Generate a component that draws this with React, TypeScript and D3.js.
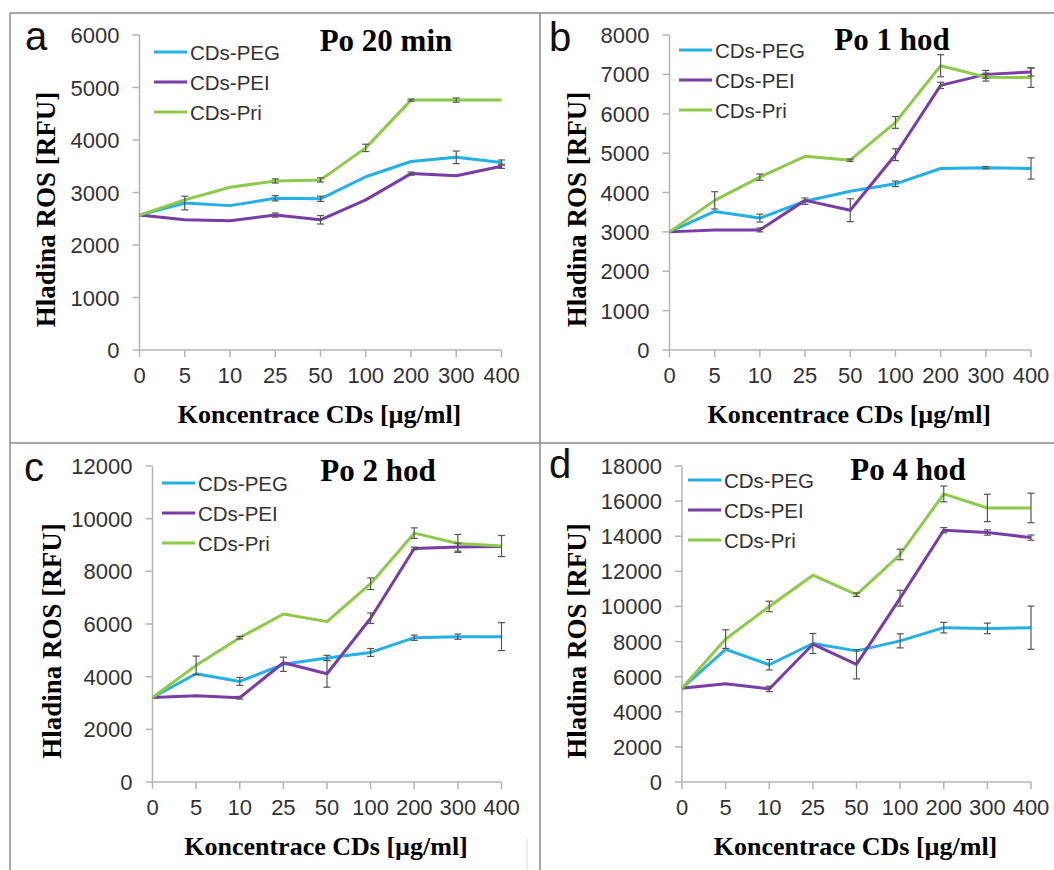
import React from 'react'
import * as d3 from 'd3'

// x categories (µg/ml)
const concentrations = ['0', '5', '10', '25', '50', '100', '200', '300', '400']
const seriesNames = ['CDs-PEG', 'CDs-PEI', 'CDs-Pri']
const seriesColors = ['#22B0E6', '#7A3CA6', '#8DCA48']

// a: Po 20 min
const pegA = [2570, 2800, 2750, 2890, 2880, 3300, 3590, 3670, 3570]
const peiA = [2570, 2480, 2460, 2570, 2480, 2860, 3360, 3320, 3500]
const priA = [2570, 2860, 3100, 3220, 3240, 3850, 4760, 4760, 4760]
const pegErrA = [0, 130, 0, 50, 50, 0, 0, 120, 50]
const peiErrA = [0, 0, 0, 40, 80, 0, 30, 0, 40]
const priErrA = [0, 0, 0, 40, 40, 70, 20, 40, 0]

// b: Po 1 hod
const pegB = [3000, 3520, 3350, 3780, 4030, 4220, 4610, 4630, 4610]
const peiB = [3000, 3050, 3050, 3800, 3550, 4960, 6720, 7000, 7060]
const priB = [3000, 3800, 4390, 4920, 4820, 5780, 7220, 6930, 6920]
const pegErrB = [0, 0, 100, 80, 0, 70, 0, 30, 270]
const peiErrB = [0, 0, 50, 0, 290, 150, 80, 100, 100]
const priErrB = [0, 220, 80, 0, 30, 150, 280, 100, 250]

// c: Po 2 hod
const pegC = [3210, 4110, 3820, 4470, 4710, 4920, 5480, 5520, 5520]
const peiC = [3210, 3280, 3200, 4530, 4110, 6220, 8870, 8920, 8940]
const priC = [3210, 4430, 5480, 6380, 6090, 7530, 9450, 9060, 8960]
const pegErrC = [0, 0, 150, 270, 100, 150, 100, 100, 530]
const peiErrC = [0, 0, 50, 0, 510, 200, 50, 150, 0]
const priErrC = [0, 350, 50, 0, 0, 220, 200, 340, 400]

// d: Po 4 hod
const pegD = [5340, 7550, 6680, 7890, 7470, 8040, 8790, 8750, 8790]
const peiD = [5340, 5590, 5300, 7850, 6700, 10470, 14340, 14210, 13920]
const priD = [5340, 8140, 10000, 11780, 10670, 12960, 16410, 15610, 15610]
const pegErrD = [0, 0, 300, 570, 0, 400, 300, 300, 1230]
const peiErrD = [0, 0, 150, 0, 830, 450, 150, 150, 150]
const priErrD = [0, 530, 300, 0, 100, 300, 450, 780, 840]

const SANS = 'Arial, "Liberation Sans", sans-serif'
const SERIF = '"Times New Roman", "Liberation Serif", serif'
const XTITLE = 'Koncentrace CDs [µg/ml]'
const YTITLE = 'Hladina ROS [RFU]'

const panels = [
  {
    letter: 'a', title: 'Po 20 min', yMax: 6000, yStep: 1000,
    values: [pegA, peiA, priA], errors: [pegErrA, peiErrA, priErrA],
    x0: 139.5, x1: 501.5, yTop: 35, yZero: 350,
    letterX: 25, letterY: 50, titleX: 386, titleY: 51,
    legX: 154, legY: 52, yTitleX: 46,
  },
  {
    letter: 'b', title: 'Po 1 hod', yMax: 8000, yStep: 1000,
    values: [pegB, peiB, priB], errors: [pegErrB, peiErrB, priErrB],
    x0: 669.5, x1: 1031, yTop: 35, yZero: 350,
    letterX: 549, letterY: 51, titleX: 892, titleY: 50,
    legX: 679, legY: 50, yTitleX: 577,
  },
  {
    letter: 'c', title: 'Po 2 hod', yMax: 12000, yStep: 2000,
    values: [pegC, peiC, priC], errors: [pegErrC, peiErrC, priErrC],
    x0: 152.5, x1: 501.5, yTop: 466, yZero: 782,
    letterX: 24, letterY: 481, titleX: 378, titleY: 481,
    legX: 162, legY: 483, yTitleX: 52,
  },
  {
    letter: 'd', title: 'Po 4 hod', yMax: 18000, yStep: 2000,
    values: [pegD, peiD, priD], errors: [pegErrD, peiErrD, priErrD],
    x0: 682, x1: 1031, yTop: 466, yZero: 782,
    letterX: 549, letterY: 478, titleX: 908, titleY: 480,
    legX: 688, legY: 480, yTitleX: 577,
  },
]

type PanelProps = (typeof panels)[number]

function Panel(p: PanelProps) {
  const x = d3.scalePoint<string>().domain(concentrations).range([p.x0, p.x1])
  const y = d3.scaleLinear().domain([0, p.yMax]).range([p.yZero, p.yTop])
  const yTicks = d3.range(0, p.yMax + 1, p.yStep)
  const line = d3.line<number>()
    .x((_, i) => x(concentrations[i]) as number)
    .y(d => y(d))
  const axisColor = '#b4b4b4'
  const tickColor = '#333'

  return (
    <g>
      {/* axes */}
      <line x1={p.x0} x2={p.x0} y1={p.yTop} y2={p.yZero} stroke={axisColor} strokeWidth={1.5} />
      <line x1={p.x0} x2={p.x1} y1={p.yZero} y2={p.yZero} stroke={axisColor} strokeWidth={1.5} />
      {yTicks.map(t => (
        <g key={'y' + t}>
          <line x1={p.x0 - 7} x2={p.x0} y1={y(t)} y2={y(t)} stroke={axisColor} strokeWidth={1.5} />
          <text x={p.x0 - 20} y={y(t) + 8} textAnchor="end" fontFamily={SANS} fontSize={22} fill={tickColor}>{t}</text>
        </g>
      ))}
      {concentrations.map(c => (
        <g key={'x' + c}>
          <line x1={x(c)} x2={x(c)} y1={p.yZero} y2={p.yZero + 7} stroke={axisColor} strokeWidth={1.5} />
          <text x={x(c)} y={p.yZero + 33} textAnchor="middle" fontFamily={SANS} fontSize={22} fill={tickColor}>{c}</text>
        </g>
      ))}

      {/* series lines */}
      {p.values.map((vals, si) => (
        <path key={'l' + si} d={line(vals) || ''} fill="none" stroke={seriesColors[si]} strokeWidth={3} strokeLinejoin="round" />
      ))}

      {/* error bars */}
      {p.errors.map((errs, si) =>
        errs.map((e, i) => {
          if (!e) return null
          const cx = x(concentrations[i]) as number
          const v = p.values[si][i]
          return (
            <g key={'e' + si + '-' + i} stroke="#555" strokeWidth={1.2}>
              <line x1={cx} x2={cx} y1={y(v - e)} y2={y(v + e)} />
              <line x1={cx - 3.5} x2={cx + 3.5} y1={y(v - e)} y2={y(v - e)} />
              <line x1={cx - 3.5} x2={cx + 3.5} y1={y(v + e)} y2={y(v + e)} />
            </g>
          )
        })
      )}

      {/* legend */}
      {seriesNames.map((n, i) => (
        <g key={'lg' + n} transform={`translate(${p.legX},${p.legY + i * 30})`}>
          <line x1={0} x2={33} y1={0} y2={0} stroke={seriesColors[i]} strokeWidth={3} />
          <text x={36} y={7.5} fontFamily={SANS} fontSize={20.5} fill={tickColor}>{n}</text>
        </g>
      ))}

      {/* labels */}
      <text x={p.letterX} y={p.letterY} fontFamily={SANS} fontSize={40} fill="#111">{p.letter}</text>
      <text x={p.titleX} y={p.titleY} textAnchor="middle" fontFamily={SERIF} fontWeight="bold" fontSize={31} fill="#000">{p.title}</text>
      <text x={(p.x0 + p.x1) / 2 - 1} y={p.yZero + 73} textAnchor="middle" fontFamily={SERIF} fontWeight="bold" fontSize={26} fill="#000">{XTITLE}</text>
      <text transform={`translate(${p.yTitleX + 9},${(p.yTop + p.yZero) / 2 + 17}) rotate(-90)`} textAnchor="middle" fontFamily={SERIF} fontWeight="bold" fontSize={27} fill="#000">{YTITLE}</text>
    </g>
  )
}

export default function App() {
  const border = '#8a8a8a'
  return (
    <svg width={1054} height={870} style={{ position: 'absolute', left: 0, top: 0, background: '#fff' }}>
      <rect x={0} y={0} width={1054} height={870} fill="#fff" />
      {/* panel frame lines */}
      <line x1={10} x2={1054} y1={13} y2={13} stroke={border} strokeWidth={1.5} />
      <line x1={10} x2={10} y1={13} y2={870} stroke={border} strokeWidth={1.5} />
      <line x1={540} x2={540} y1={13} y2={870} stroke={border} strokeWidth={1.5} />
      <line x1={10} x2={1054} y1={443} y2={443} stroke={border} strokeWidth={1.5} />
      <line x1={527} x2={527} y1={838} y2={870} stroke="#ddd" strokeWidth={1} />
      {panels.map(p => <Panel key={p.letter} {...p} />)}
    </svg>
  )
}
